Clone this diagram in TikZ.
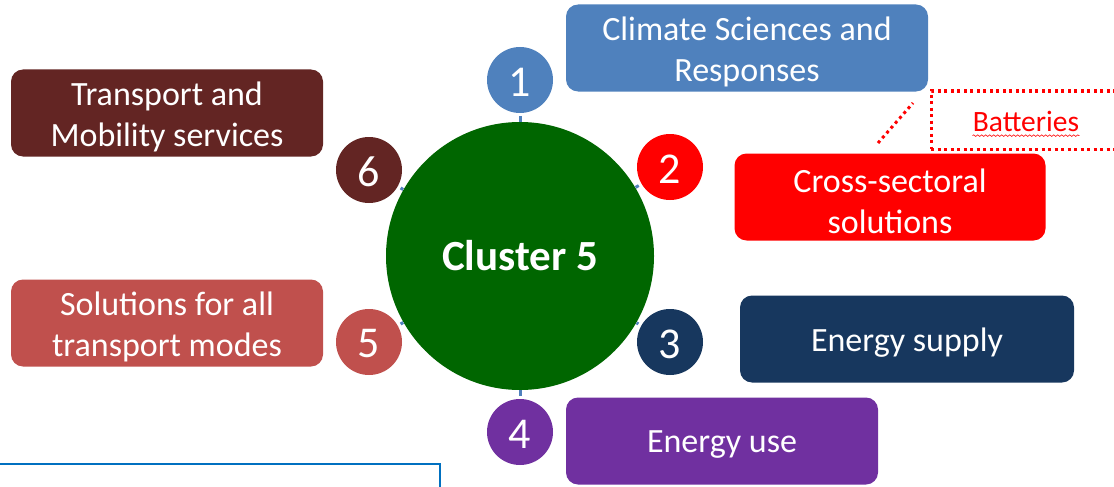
\documentclass[tikz,border=0pt]{standalone}
\usepackage{fontspec}
\setmainfont{Carlito}
\usepackage{tikz}
\usetikzlibrary{decorations.pathmorphing}

\definecolor{climblue}{HTML}{4F81BD}
\definecolor{crossred}{HTML}{FF0000}
\definecolor{supplyblue}{HTML}{17375E}
\definecolor{usepurple}{HTML}{7030A0}
\definecolor{solred}{HTML}{C0504D}
\definecolor{transbrown}{HTML}{632523}
\definecolor{clustergreen}{HTML}{006600}
\definecolor{lineblue}{HTML}{0070C0}

\begin{document}
\begin{tikzpicture}[x=1pt,y=-1pt,thick,
  num node/.style={circle,minimum size=66pt,inner sep=0pt,text=white,
    font=\fontsize{44}{44}\selectfont},
  num text/.style={text=white,font=\fontsize{44}{44}\selectfont,yshift=-2pt,inner sep=0pt},
  box node/.style={rounded corners=12pt,minimum height=87pt,inner sep=0pt},
  box text/.style={text=white,align=center,font=\fontsize{34}{41}\selectfont,
    yshift=-4pt,inner sep=0pt},
  link/.style={draw=climblue,line width=3pt},
  dotline/.style={draw=crossred,line width=3pt,dash pattern=on 3pt off 3.5pt}]

  \useasboundingbox (0,0) rectangle (1114,487);
  \clip (0,0) rectangle (1114,487);

  % centre
  \node[circle,fill=clustergreen,minimum size=268pt,inner sep=0pt,text=white,
    font=\fontsize{43}{43}\selectfont\bfseries] (cluster) at (520,256) {Cluster 5};

  % numbered circles
  \node[num node,fill=climblue,label={[num text]center:1}]   (n1) at (520,80)  {};
  \node[num node,fill=crossred,label={[num text]center:2}]   (n2) at (670,167) {};
  \node[num node,fill=supplyblue,label={[num text]center:3}] (n3) at (670,342) {};
  \node[num node,fill=usepurple,label={[num text]center:4}]  (n4) at (520,432) {};
  \node[num node,fill=solred,label={[num text]center:5}]     (n5) at (369,342) {};
  \node[num node,fill=transbrown,label={[num text]center:6}] (n6) at (369,170) {};

  % boxes
  \node[box node,fill=climblue,minimum width=362pt,
    label={[box text]center:{Climate Sciences and\\Responses}}] (b1) at (747,48) {};
  \node[box node,fill=crossred,minimum width=311pt,
    label={[box text]center:{Cross-sectoral\\solutions}}] (b2) at (890,197) {};
  \node[box node,fill=supplyblue,minimum width=334pt,
    label={[box text]center:{Energy supply}}] (b3) at (907,339) {};
  \node[box node,fill=usepurple,minimum width=312pt,
    label={[box text]center:{Energy use}}] (b4) at (722,441) {};
  \node[box node,fill=solred,minimum width=312pt,
    label={[box text]center:{Solutions for all\\transport modes}}] (b5) at (167,323) {};
  \node[box node,fill=transbrown,minimum width=312pt,
    label={[box text]center:{Transport and\\Mobility services}}] (b6) at (167,113) {};

  % links to the centre
  \foreach \n in {n1,n2,n3,n4,n5,n6}
    \draw[link,shorten <=3pt] (\n) -- (cluster);

  % batteries note
  \node[dotline,draw,minimum width=200pt,minimum height=58pt] (batt) at (1031,120) {};
  \node[text=crossred,font=\fontsize{29.5}{30}\selectfont,inner sep=0pt] (batttext) at (1026,121) {Batteries};
  \draw[crossred,line width=0.6pt,decorate,decoration={snake,amplitude=0.8pt,segment length=4pt}]
    ([yshift=-4pt]batttext.south west) -- ([yshift=-4pt]batttext.south east);
  \coordinate (d1) at (878,143);
  \coordinate (d2) at (913,103);
  \draw[dotline] (d1) -- (d2);

  % frame edge bottom left
  \coordinate (f1) at (0,464);
  \coordinate (f2) at (440,464);
  \coordinate (f3) at (440,490);
  \draw[lineblue,line width=2.5pt] (f1) -- (f2) -- (f3);
\end{tikzpicture}
\end{document}
